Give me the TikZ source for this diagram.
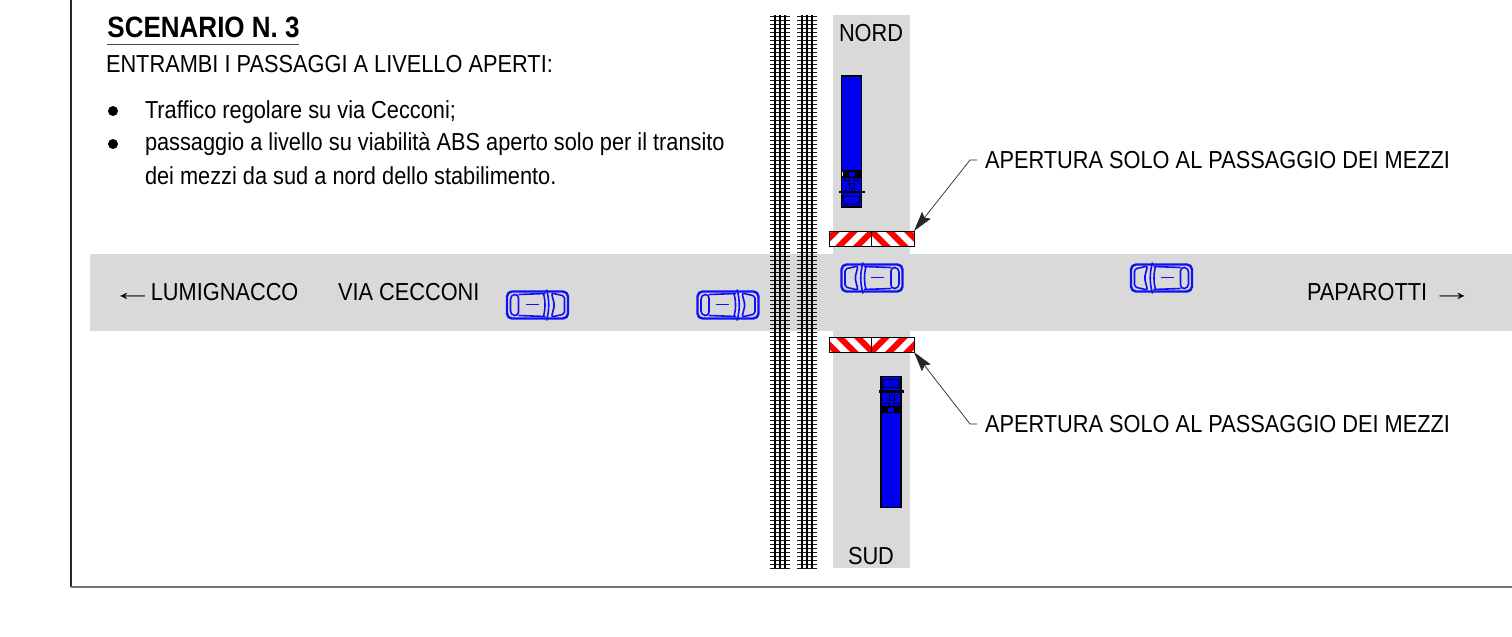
\documentclass[tikz,border=0pt]{standalone}
\usepackage{fontspec}
\setmainfont[FakeStretch=0.885]{Liberation Sans}
\newfontfamily\arrowfont[FakeStretch=1.7]{Liberation Sans}
\usetikzlibrary{arrows.meta}
\definecolor{roadgray}{HTML}{D9D9D9}
\definecolor{carblue}{HTML}{1010F4}
\definecolor{truckblue}{HTML}{0000F0}
\definecolor{stripered}{HTML}{FF0000}
\newcommand\bigarrow[1]{{\arrowfont #1}}
\tikzset{
  txt/.style={anchor=base west,inner sep=0pt,outer sep=0pt,font=\fontsize{12.3}{14}\selectfont},
  lab/.style={anchor=base west,inner sep=0pt,outer sep=0pt,font=\fontsize{12.3}{14}\selectfont},
  road/.style={fill=roadgray,draw=none},
  carline/.style={draw=carblue,line width=.8pt,line join=round},
  truckout/.style={draw=black,line width=.9pt,fill=truckblue},
  leader/.style={draw=black!85,line width=.35pt,-{Stealth[length=10pt,width=5.5pt,inset=1.5pt]}},
  tie/.style={draw=black!90,line width=.7pt},
  railline/.style={draw=black,line width=.7pt},
  bullet/.style={circle,fill=black,draw=none,minimum size=5pt,inner sep=0pt}
}
\newcommand\trackset[1]{%
  \foreach \k in {0,...,138}{\draw[tie] (#1,{16.5+\k*4}) -- ++(19.5,0);}
  \draw[railline] (#1+5,15) -- (#1+5,568);
  \draw[railline] (#1+15,15) -- (#1+15,568);
  \draw[railline] (#1+10,15) -- (#1+10,568);
}
% x y width dir(+1 = '/', -1 = '\') bottom-start
\newcommand\barrierbox[5]{%
  \begin{scope}
    \clip (#1,#2) rectangle ++(#3,15);
    \fill[white] (#1,#2) rectangle ++(#3,15);
    \foreach \s in {-3,...,3}{
      \fill[stripered] ({#5+\s*18},#2+15) -- ++({#4*15},-15) -- ++(8.5,0) -- ++({-#4*15},15) -- cycle;
    }
  \end{scope}
  \draw[black,line width=.5pt] (#1,#2) rectangle ++(#3,15);
}
\newcommand\carshape[3]{% x y xscale
  \begin{scope}[shift={(#1,#2)},xscale=#3]
    \draw[carline,line width=1.2pt,rounded corners=2.5pt] (-30.5,-13.5) rectangle (30.5,13.5);
    \draw[carline,rounded corners=2pt] (-27,-10) -- (-19,-11) -- (-19,11) -- (-27,10) -- cycle;
    \draw[carline] (-19,-10.5) -- (8,-11.5) (-19,10.5) -- (8,11.5);
    \draw[carline,rounded corners=1pt] (14,-12) -- (27,-9) -- (27,9) -- (14,12) -- (17,0) -- cycle;
    \draw[carline] (9,-15.5) .. controls (12,-5) and (12,5) .. (9,15.5);
    \draw[carline] (6,-11) .. controls (8,-5) and (8,5) .. (6,11);
    \draw[carline,line width=.45pt] (-12,-1) -- (1,-1);
  \end{scope}
}
% x y (top-left of box), yscale +1: cab on top; -1: cab at the bottom (y is bottom)
\newcommand\truckshape[3]{%
  \begin{scope}[shift={(#1,#2)},yscale=#3]
    \draw[truckout] (0,36) rectangle (20,131);
    \draw[truckout] (0,0) rectangle (20,30);
    \draw[black,line width=.5pt,fill=truckblue] (3,3) -- (17,3) -- (19,11) -- (1,11) -- cycle;
    \draw[black,line width=1.3pt] (-2.5,15) -- (23,15);
    \draw[black,line width=.4pt] (8,19) rectangle (13,24);
    \fill[black] (1,30) rectangle (7,36);
    \fill[black] (13,30) rectangle (19,36);
    \fill[truckblue] (7,30) rectangle (13,35);
    \draw[black,line width=.7pt] (0,30) -- (0,36) (20,30) -- (20,36);
    \draw[black,line width=.4pt] (3,27) rectangle (8,31) (12,27) rectangle (17,31);
  \end{scope}
}
\begin{document}
\begin{tikzpicture}[x=.5pt,y=-.5pt]
\useasboundingbox (0,0) rectangle (1512,637);
% frame
\draw[black!85,line width=.55pt] (71,0) -- (71,587);
\draw[black!55,line width=.8pt] (71,587) -- (1512,587);
% roads
\fill[road] (90,254) rectangle (1512,331);
\fill[road] (833,15) rectangle (910,568);
% tracks
\trackset{770}
\trackset{797}
% barriers
\barrierbox{829}{231}{42.5}{1}{835}
\barrierbox{871.5}{231}{42.5}{-1}{900}
\barrierbox{829}{337}{42.5}{-1}{850}
\barrierbox{871.5}{337}{42.5}{1}{885}
% vehicles
\carshape{537.5}{305}{1}
\carshape{728}{305}{1}
\carshape{872}{278}{-1}
\carshape{1161.5}{278}{-1}
\truckshape{841.5}{207}{-1}
\truckshape{881}{376.5}{1}
% texts
\node[anchor=base west,inner sep=0pt,font=\fontsize{14.7}{16}\bfseries\selectfont] (title) at (107,38) {SCENARIO N. 3};
\draw[black!70,line width=.5pt] (title.base west |- 0,44.5) -- (299,44.5);
\node[txt] (intro) at (106,72) {ENTRAMBI I PASSAGGI A LIVELLO APERTI:};
\node[bullet] (b1) at (113,111) {};
\node[bullet] (b2) at (113,144) {};
\node[txt] (t1) at (145,118) {Traffico regolare su via Cecconi;};
\node[txt] (t2) at (145,150) {passaggio a livello su viabilità ABS aperto solo per il transito};
\node[txt] (t3) at (145,184) {dei mezzi da sud a nord dello stabilimento.};
\node[lab] (nord) at (839,41) {NORD};
\node[lab] (sud) at (848,564) {SUD};
\node[lab] (lum) at (112,300) {\bigarrow{←} \kern-4.5pt LUMIGNACCO};
\node[lab] (via) at (338,300) {VIA CECCONI};
\node[lab] (pap) at (1307,300) {PAPAROTTI \kern-1pt\bigarrow{→}};
\node[lab] (ap1) at (985,168) {APERTURA SOLO AL PASSAGGIO DEI MEZZI};
\node[lab] (ap2) at (985,432) {APERTURA SOLO AL PASSAGGIO DEI MEZZI};
% leaders
\coordinate (tipN) at (914,231);
\coordinate (tipS) at (914,352);
\draw[leader] (ap1.west |- 0,160) ++(-8,0) -- (970,160) -- (tipN);
\draw[leader] (ap2.west |- 0,424) ++(-8,0) -- (970,424) -- (tipS);
\end{tikzpicture}
\end{document}
